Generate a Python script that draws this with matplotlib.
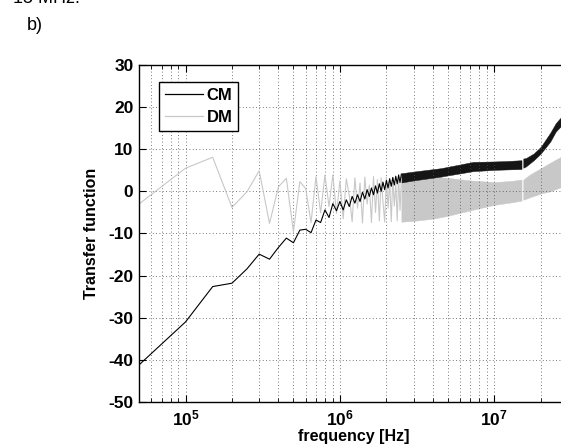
"""
Transfer function of the CM / DM paths vs. frequency (panel b).
"""

import numpy as np
import matplotlib
matplotlib.use("Agg")
import matplotlib.pyplot as plt
from matplotlib.lines import Line2D
from matplotlib.ticker import FixedLocator, FixedFormatter, LogLocator, NullFormatter

# ---------------------------------------------------------------------------
# Style
# ---------------------------------------------------------------------------
plt.rcParams.update(
    {
        "font.family": ["Liberation Sans", "DejaVu Sans"],
        "font.size": 10,
        "mathtext.fontset": "custom",
        "mathtext.rm": "Liberation Sans",
        "mathtext.bf": "Liberation Sans:bold",
        "xtick.direction": "in",
        "ytick.direction": "in",
        "xtick.top": True,
        "ytick.right": True,
    }
)

# ---------------------------------------------------------------------------
# Data
# ---------------------------------------------------------------------------
# resolvable low-frequency part, 50 kHz step
freq_khz = [50, 100, 150, 200, 250, 300, 350, 400, 450, 500,
            550, 600, 650, 700, 750, 800, 850, 900, 950, 1000,
            1050, 1100, 1150, 1200, 1250, 1300, 1350, 1400, 1450, 1500,
            1550, 1600, 1650, 1700, 1750, 1800, 1850, 1900, 1950, 2000,
            2050, 2100, 2150, 2200, 2250, 2300, 2350, 2400, 2450, 2500]

cm_db = [-41.2, -31.0, -22.6, -21.8, -18.4, -14.9, -16.1, -13.3, -11.1, -12.2,
         -9.2, -9.0, -9.8, -6.8, -7.4, -4.4, -6.2, -2.9, -4.6, -2.4,
         -4.4, -2.0, -3.6, -1.2, -2.8, -0.8, -2.4, -0.2, -1.8, 0.4,
         -1.2, 0.8, -0.8, 1.3, -0.4, 1.8, 0.0, 2.2, 0.4, 2.6,
         0.8, 3.0, 1.2, 3.3, 1.5, 3.6, 1.8, 3.9, 2.1, 4.1]

dm_db = [-3.0, 5.5, 8.1, -3.8, -0.1, 4.9, -7.6, 1.1, 3.1, -9.6,
         2.3, 0.7, -7.4, 3.5, -5.1, 3.9, -3.6, 3.9, -5.2, 2.5,
         -6.5, 3.0, -1.0, -7.2, 3.2, -4.0, 2.0, -7.5, 3.4, -3.0,
         1.5, -7.4, 3.5, -5.0, 2.8, -7.0, 3.2, -2.5, -7.3, 3.4,
         -4.0, 2.5, -7.2, 3.3, -3.5, 1.8, -7.0, 3.4, -4.5, 3.0]

# dense high-frequency part: envelope of the oscillation (two sweep ranges)
cm_band_mhz_a = [2.5, 3.0, 4.5, 7.3, 10.0, 12.0, 15.0]
cm_band_hi_a = [4.3, 4.7, 5.5, 7.0, 7.1, 7.2, 7.4]
cm_band_lo_a = [2.1, 2.6, 3.5, 4.8, 5.1, 5.2, 5.3]
cm_band_mhz_b = [15.4, 16.0, 18.0, 20.0, 23.0, 25.0, 27.0, 28.5]
cm_band_hi_b = [7.8, 7.9, 9.0, 10.6, 13.9, 16.2, 17.6, 18.4]
cm_band_lo_b = [5.6, 5.9, 7.4, 9.0, 11.8, 14.2, 15.5, 16.4]

dm_band_mhz_a = [2.5, 3.0, 4.0, 5.0, 7.0, 10.0, 13.0, 15.0]
dm_band_hi_a = [3.5, 3.5, 3.5, 3.2, 2.6, 2.2, 2.5, 2.8]
dm_band_lo_a = [-7.2, -7.0, -6.5, -5.8, -4.5, -3.2, -2.6, -2.2]
dm_band_mhz_b = [15.4, 17.0, 20.0, 23.0, 27.0, 28.5]
dm_band_hi_b = [2.8, 4.0, 5.5, 6.8, 8.2, 8.6]
dm_band_lo_b = [-2.0, -1.4, -0.5, 0.0, 1.0, 1.2]

y_ticks = [-50, -40, -30, -20, -10, 0, 10, 20, 30]
x_ticks = [1e5, 1e6, 1e7]
x_tick_labels = [r"$\mathbf{10^{5}}$", r"$\mathbf{10^{6}}$", r"$\mathbf{10^{7}}$"]

CM_COLOR = "black"
DM_COLOR = "#c8c8c8"

# ---------------------------------------------------------------------------
# Plot
# ---------------------------------------------------------------------------
fig = plt.figure(figsize=(5.61, 4.47), dpi=100)
ax = fig.add_axes([0.2478, 0.1007, 0.7647, 0.7539])

f_hz = np.array(freq_khz) * 1e3

# DM first so that CM sits on top
ax.plot(f_hz, dm_db, color=DM_COLOR, lw=0.8)
for fm, hi, lo in [(dm_band_mhz_a, dm_band_hi_a, dm_band_lo_a),
                   (dm_band_mhz_b, dm_band_hi_b, dm_band_lo_b)]:
    ax.fill_between(np.array(fm) * 1e6, lo, hi, color=DM_COLOR, lw=0.3)

ax.plot(f_hz, cm_db, color=CM_COLOR, lw=0.8)
for fm, hi, lo in [(cm_band_mhz_a, cm_band_hi_a, cm_band_lo_a),
                   (cm_band_mhz_b, cm_band_hi_b, cm_band_lo_b)]:
    ax.fill_between(np.array(fm) * 1e6, lo, hi, color="#151515", lw=0.3)

ax.set_xscale("log")
ax.set_xlim(5e4, 3e7)
ax.set_ylim(-50, 30)

ax.xaxis.set_major_locator(FixedLocator(x_ticks))
ax.xaxis.set_major_formatter(FixedFormatter(x_tick_labels))
ax.xaxis.set_minor_locator(LogLocator(base=10, subs=np.arange(2, 10), numticks=20))
ax.xaxis.set_minor_formatter(NullFormatter())
ax.set_yticks(y_ticks)
ax.set_yticklabels([str(v) for v in y_ticks], fontweight="bold")

ax.tick_params(which="major", length=5, width=0.8, labelsize=12.5)
ax.tick_params(which="minor", length=3, width=0.6)
ax.tick_params(axis="x", which="major", pad=5)
ax.tick_params(axis="y", which="major", pad=4)

grid_kw = dict(color="0.3", linestyle=(0, (1, 3)), linewidth=0.6)
ax.grid(True, which="major", **grid_kw)
ax.grid(True, which="minor", axis="x", **grid_kw)

for sp in ax.spines.values():
    sp.set_linewidth(1.0)

ax.set_xlabel("frequency [Hz]", fontweight="bold", fontsize=11.5, labelpad=0)
ax.set_ylabel("Transfer function", fontweight="bold", fontsize=11.5, labelpad=7)

handles = [Line2D([], [], color=CM_COLOR, lw=0.9),
           Line2D([], [], color=DM_COLOR, lw=0.9)]
leg = ax.legend(handles, ["CM", "DM"], loc="upper left",
                bbox_to_anchor=(0.0466, 0.9496), borderaxespad=0,
                prop={"weight": "bold", "size": 12}, fancybox=False,
                edgecolor="black", framealpha=1, handlelength=2.3,
                handletextpad=0.2, labelspacing=0.45, borderpad=0.35)
leg.get_frame().set_linewidth(1.0)

fig.text(13 / 561, 1 - 3 / 447, "15 MHz.", fontsize=13, va="baseline")
fig.text(27 / 561, 1 - 30 / 447, "b)", fontsize=13, va="baseline")

fig.savefig("out.png", dpi=100)
plt.close(fig)
